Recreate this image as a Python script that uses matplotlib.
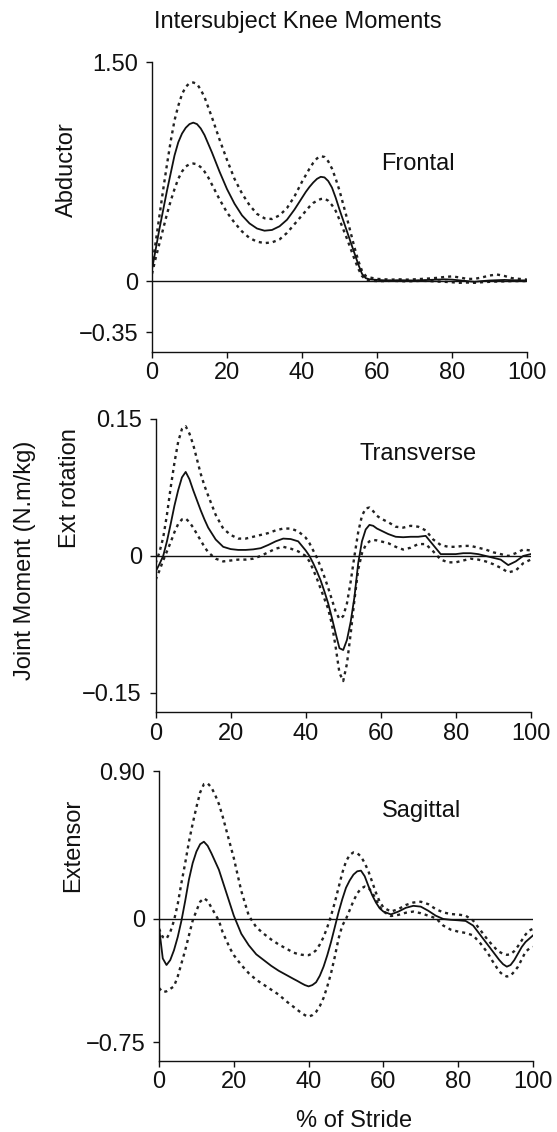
import numpy as np
import matplotlib
matplotlib.use('Agg')
import matplotlib.pyplot as plt

plt.rcParams['font.family'] = ['Liberation Sans', 'DejaVu Sans']

# % of stride: 1% steps where the curves bend sharply, 2% elsewhere
frontal_x = np.concatenate([np.arange(0, 17), np.arange(18, 41, 2),
                            np.arange(41, 59), np.arange(60, 101, 2)])
transverse_x = np.concatenate([np.arange(0, 15), np.arange(16, 40, 2),
                               np.arange(40, 61), np.arange(62, 101, 2)])
sagittal_x = np.concatenate([np.arange(0, 21), np.arange(22, 36, 2),
                             np.arange(36, 61), np.arange(62, 88, 2),
                             np.arange(88, 101)])

# Frontal plane (abductor moment), mean and +/- 1 SD
frontal_mean = [0.08, 0.22, 0.36, 0.49, 0.62, 0.74, 0.86, 0.95, 1.01, 1.05,
                1.075, 1.085, 1.075, 1.045, 1.00, 0.94, 0.88,
                0.75, 0.63, 0.53, 0.45, 0.395, 0.36, 0.345, 0.35, 0.375, 0.42,
                0.49, 0.57,
                0.61, 0.645, 0.675, 0.70, 0.714, 0.71, 0.685, 0.64, 0.57, 0.49,
                0.415, 0.34, 0.265, 0.19, 0.115, 0.05, 0.02, 0.012,
                0.008, 0.005, 0.004, 0.006, 0.005, 0.004, 0.006, 0.008, 0.010,
                0.012, 0.010, 0.005, 0.0, -0.005, 0.0, 0.004, 0.006, 0.008,
                0.006, 0.005, 0.004]
frontal_upper = [0.10, 0.27, 0.45, 0.63, 0.80, 0.96, 1.10, 1.20, 1.28, 1.33,
                 1.355, 1.36, 1.35, 1.31, 1.26, 1.19, 1.12,
                 0.97, 0.83, 0.70, 0.60, 0.52, 0.46, 0.43, 0.425, 0.45, 0.50,
                 0.58, 0.68,
                 0.725, 0.77, 0.81, 0.84, 0.855, 0.85, 0.82, 0.77, 0.70, 0.62,
                 0.525, 0.43, 0.33, 0.23, 0.14, 0.07, 0.035, 0.025,
                 0.015, 0.012, 0.010, 0.012, 0.010, 0.012, 0.015, 0.018, 0.022,
                 0.028, 0.032, 0.025, 0.015, 0.015, 0.025, 0.038, 0.045, 0.035,
                 0.020, 0.015, 0.010]
frontal_lower = [0.05, 0.16, 0.26, 0.36, 0.46, 0.55, 0.63, 0.70, 0.75, 0.785,
                 0.80, 0.805, 0.80, 0.78, 0.75, 0.71, 0.66,
                 0.56, 0.47, 0.40, 0.34, 0.295, 0.27, 0.26, 0.265, 0.285, 0.33,
                 0.39, 0.45,
                 0.48, 0.51, 0.535, 0.55, 0.562, 0.565, 0.55, 0.52, 0.48, 0.42,
                 0.355, 0.29, 0.22, 0.15, 0.085, 0.035, 0.01, 0.003,
                 0.0, 0.0, 0.002, 0.0, -0.002, 0.0, 0.002, 0.0, -0.003,
                 -0.005, -0.008, -0.012, -0.010, -0.012, -0.008, -0.005, -0.003, -0.002,
                 0.0, 0.0, 0.0]

# Transverse plane (external rotation moment)
transverse_mean = [-0.017, -0.009, 0.0, 0.016, 0.035, 0.055, 0.072, 0.086, 0.092, 0.084,
                   0.072, 0.061, 0.050, 0.040, 0.031,
                   0.018, 0.010, 0.0075, 0.0066, 0.0066, 0.0072, 0.0085, 0.012, 0.016, 0.019,
                   0.0185, 0.016,
                   0.006, 0.0, -0.008, -0.017, -0.027, -0.039, -0.052, -0.068, -0.085, -0.101,
                   -0.103, -0.092, -0.072, -0.045, -0.008, 0.016, 0.029, 0.034, 0.033, 0.030,
                   0.028,
                   0.024, 0.021, 0.0205, 0.021, 0.021, 0.022, 0.012, 0.002, 0.002, 0.002,
                   0.003, 0.003, 0.002, 0.0, -0.002, -0.004, -0.010, -0.006, 0.0, 0.002]
transverse_upper = [-0.008, 0.004, 0.02, 0.045, 0.075, 0.102, 0.125, 0.139, 0.142, 0.134,
                    0.122, 0.106, 0.090, 0.077, 0.066,
                    0.045, 0.030, 0.023, 0.019, 0.019, 0.021, 0.023, 0.025, 0.028, 0.030,
                    0.030, 0.027,
                    0.020, 0.014, 0.006, -0.002, -0.012, -0.023, -0.035, -0.048, -0.061, -0.069,
                    -0.066, -0.052, -0.028, 0.0, 0.026, 0.044, 0.052, 0.053, 0.049, 0.044,
                    0.041,
                    0.037, 0.032, 0.031, 0.033, 0.032, 0.028, 0.018, 0.012, 0.010, 0.010,
                    0.011, 0.011, 0.009, 0.007, 0.004, 0.002, 0.0, 0.003, 0.007, 0.006]
transverse_lower = [-0.026, -0.016, -0.005, 0.005, 0.015, 0.026, 0.035, 0.040, 0.041, 0.037,
                    0.031, 0.024, 0.017, 0.010, 0.004,
                    -0.003, -0.006, -0.005, -0.004, -0.004, -0.003, 0.0, 0.004, 0.008, 0.010,
                    0.008, 0.005,
                    0.0, -0.006, -0.015, -0.025, -0.036, -0.047, -0.058, -0.075, -0.100, -0.128,
                    -0.137, -0.118, -0.085, -0.048, -0.015, 0.003, 0.012, 0.016, 0.0175, 0.017,
                    0.016,
                    0.014, 0.010, 0.007, 0.009, 0.013, 0.013, 0.005, -0.004, -0.007, -0.007,
                    -0.005, -0.003, -0.004, -0.006, -0.009, -0.013, -0.018, -0.016, -0.008, -0.004]

# Sagittal plane (extensor moment)
sagittal_mean = [-0.05, -0.24, -0.28, -0.25, -0.19, -0.11, -0.01, 0.11, 0.24, 0.34,
                 0.41, 0.455, 0.47, 0.445, 0.40, 0.35, 0.30, 0.23, 0.16, 0.09, 0.02,
                 -0.09, -0.16, -0.215, -0.25, -0.285, -0.315, -0.34,
                 -0.365, -0.377, -0.39, -0.402, -0.41, -0.402, -0.385, -0.345, -0.29, -0.22,
                 -0.14, -0.05, 0.04, 0.12, 0.19, 0.235, 0.27, 0.29, 0.294, 0.26,
                 0.20, 0.145, 0.10, 0.065, 0.045,
                 0.028, 0.045, 0.068, 0.080, 0.075, 0.050, 0.020, 0.0, -0.005, -0.008,
                 -0.012, -0.04, -0.10,
                 -0.16, -0.19, -0.22, -0.25, -0.275, -0.29, -0.28, -0.25, -0.21, -0.17,
                 -0.14, -0.12, -0.10]
sagittal_upper = [-0.06, -0.11, -0.12, -0.08, -0.01, 0.09, 0.22, 0.34, 0.47, 0.58,
                  0.68, 0.77, 0.82, 0.825, 0.80, 0.755, 0.70, 0.625, 0.54, 0.455, 0.37,
                  0.17, 0.02, -0.05, -0.09, -0.125, -0.155, -0.18,
                  -0.205, -0.212, -0.217, -0.22, -0.22, -0.21, -0.19, -0.155, -0.11, -0.05,
                  0.02, 0.10, 0.19, 0.28, 0.35, 0.39, 0.405, 0.40, 0.38, 0.34,
                  0.29, 0.225, 0.16, 0.105, 0.07,
                  0.045, 0.06, 0.085, 0.10, 0.105, 0.09, 0.06, 0.04, 0.03, 0.027,
                  0.02, -0.01, -0.07,
                  -0.13, -0.155, -0.18, -0.20, -0.212, -0.218, -0.215, -0.195, -0.165, -0.13,
                  -0.095, -0.07, -0.06]
sagittal_lower = [-0.42, -0.445, -0.44, -0.425, -0.41, -0.35, -0.27, -0.19, -0.10, -0.01,
                  0.05, 0.105, 0.126, 0.11, 0.07, 0.03, -0.01, -0.08, -0.13, -0.18, -0.22,
                  -0.28, -0.33, -0.37, -0.40, -0.43, -0.46, -0.50,
                  -0.535, -0.553, -0.57, -0.585, -0.594, -0.585, -0.565, -0.53, -0.48, -0.41,
                  -0.33, -0.23, -0.12, -0.04, 0.0, 0.055, 0.11, 0.155, 0.185, 0.197,
                  0.19, 0.16, 0.12, 0.075, 0.045,
                  0.018, 0.025, 0.038, 0.045, 0.035, 0.020, 0.005, -0.04, -0.065, -0.077,
                  -0.085, -0.10, -0.15,
                  -0.21, -0.25, -0.285, -0.32, -0.34, -0.35, -0.345, -0.32, -0.29, -0.245,
                  -0.20, -0.18, -0.17]

panels = [
    # axes rect, ylim, yticks, yticklabels, ylabel, plane name, name position
    ([0.2729, 0.6890, 0.6732, 0.2562], (-0.486, 1.50), [-0.35, 0, 1.50],
     ['\u22120.35', '0', '1.50'], 'Frontal', (70.8, 0.760),
     frontal_x, frontal_mean, frontal_upper, frontal_lower),
    ([0.2795, 0.3706, 0.6733, 0.2593], (-0.1714, 0.15), [-0.15, 0, 0.15],
     ['\u22120.15', '0', '0.15'], 'Transverse', (70.0, 0.1051),
     transverse_x, transverse_mean, transverse_upper, transverse_lower),
    ([0.2855, 0.0627, 0.6714, 0.2562], (-0.864, 0.90), [-0.75, 0, 0.90],
     ['\u22120.75', '0', '0.90'], 'Sagittal', (70.3, 0.619),
     sagittal_x, sagittal_mean, sagittal_upper, sagittal_lower),
]

fs = 17
ink = '#111111'
fig = plt.figure(figsize=(5.57, 11.32), dpi=100)

for rect, ylim, yt, ytl, name, npos, xs, mean, upper, lower in panels:
    ax = fig.add_axes(rect)
    ax.plot(xs, upper, color='#222222', lw=1.7, ls=(0, (1.3, 1.7)))
    ax.plot(xs, lower, color='#222222', lw=1.7, ls=(0, (1.3, 1.7)))
    ax.plot(xs, mean, color=ink, lw=1.3)
    ax.axhline(0, color=ink, lw=1.0)
    ax.set_xlim(0, 100)
    ax.set_ylim(*ylim)
    ax.set_xticks([0, 20, 40, 60, 80, 100])
    ax.set_yticks(yt)
    ax.set_yticklabels(ytl)
    for s in ['top', 'right']:
        ax.spines[s].set_visible(False)
    for s in ['left', 'bottom']:
        ax.spines[s].set_linewidth(1.0)
        ax.spines[s].set_color(ink)
    ax.tick_params(axis='x', direction='out', length=4, width=1, pad=3.5,
                   labelsize=fs, colors=ink)
    ax.tick_params(axis='y', direction='out', length=4, width=1, pad=6,
                   labelsize=fs, colors=ink)
    ax.text(npos[0], npos[1], name, fontsize=fs, ha='center', va='baseline',
            color=ink)

fig.text(0.534, 0.9806, 'Intersubject Knee Moments', fontsize=fs,
         ha='center', va='center', color=ink)
fig.text(0.121, 0.8503, 'Abductor', fontsize=fs, rotation=90,
         ha='center', va='center', color=ink)
fig.text(0.1257, 0.5686, 'Ext rotation', fontsize=fs, rotation=90,
         ha='center', va='center', color=ink)
fig.text(0.0445, 0.5046, 'Joint Moment (N.m/kg)', fontsize=fs, rotation=90,
         ha='center', va='center', color=ink)
fig.text(0.131, 0.2528, 'Extensor', fontsize=fs, rotation=90,
         ha='center', va='center', color=ink)
fig.text(0.6364, 0.0044, '% of Stride', fontsize=fs,
         ha='center', va='baseline', color=ink)

fig.savefig('out.png', dpi=100)
